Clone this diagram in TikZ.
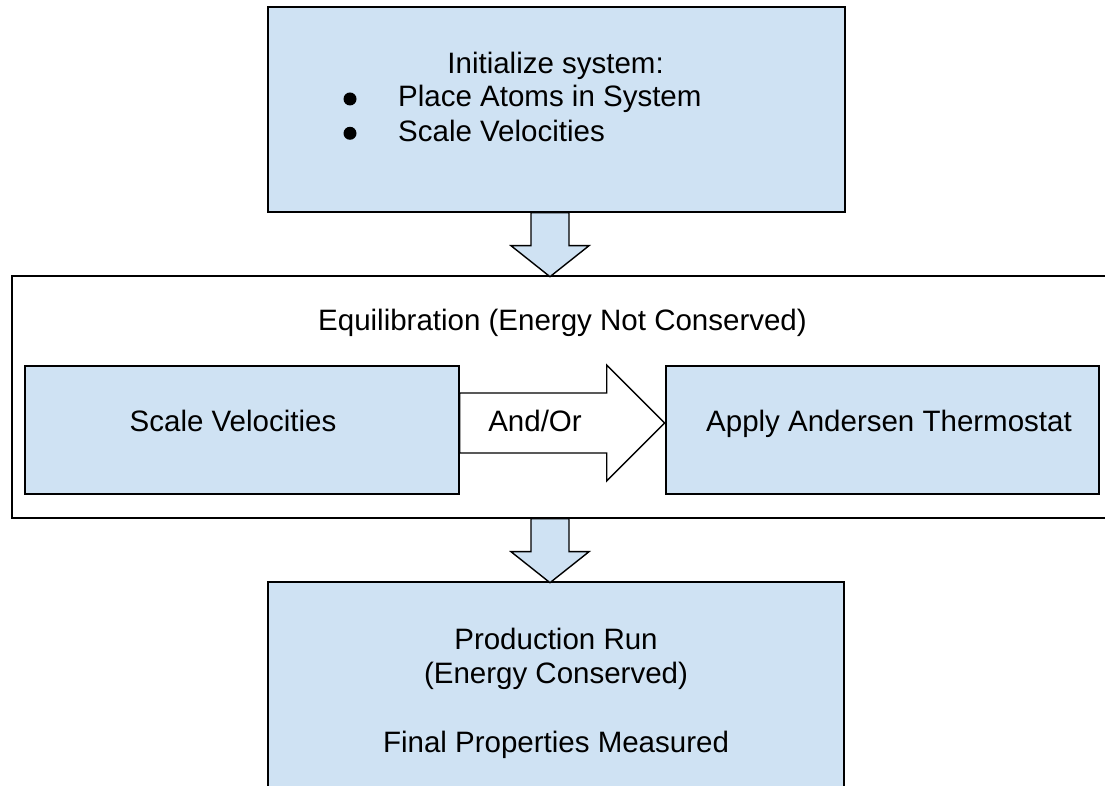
\documentclass[tikz,border=0pt]{standalone}
\usepackage{fontspec}
\setmainfont{Liberation Sans}
\usepackage{tikz}
\usetikzlibrary{calc}
\definecolor{paleblue}{HTML}{CFE2F3}
\tikzset{
  stagebox/.style={draw, line width=1.4pt, fill=paleblue, inner sep=0pt},
  groupbox/.style={draw, line width=1.4pt, fill=white, inner sep=0pt},
  blockarrow/.style={draw, line width=1.4pt, fill=paleblue, line join=miter},
  hollowarrow/.style={draw, line width=1.4pt, fill=white, line join=miter},
  txt/.style={inner sep=0pt, font=\fontsize{29.5}{34.5}\selectfont},
  dot/.style={circle, fill, inner sep=0pt, minimum size=13pt},
}

\begin{document}
\begin{tikzpicture}[x=1pt, y=1pt]

  \newcommand\downblock[1]{%
    \draw[blockarrow] (#1) +(-19,0) -- +(-19,-33) -- +(-39,-33) -- +(0,-64)
    -- +(39,-33) -- +(19,-33) -- +(19,0) -- cycle;}

  \clip (0,0) rectangle (1105,786);

  %% boxes
  \node[stagebox, minimum width=577pt, minimum height=205pt] (init) at (556.5,676.5) {};
  \node[groupbox, minimum width=1101pt, minimum height=242pt] (equil) at (562.5,389) {};
  \node[stagebox, minimum width=434pt, minimum height=128pt] (scale) at (242,356) {};
  \node[stagebox, minimum width=433pt, minimum height=128pt] (thermo) at (882.5,356) {};
  \node[stagebox, txt, align=center, minimum width=576pt, minimum height=223pt]
  (prod) at (556,92.6) {Production Run\\(Energy Conserved)\\[34.5pt]Final Properties Measured};

  %% texts
  \node[txt, anchor=base] (inittitle) at (555.6,712) {Initialize system:};
  \node[dot] (dot1) at (350,687) {};
  \node[dot] (dot2) at (350,652.7) {};
  \node[txt, anchor=base west] (item1) at (398,679) {Place Atoms in System};
  \node[txt, anchor=base west] (item2) at (398,644) {Scale Velocities};
  \node[txt, anchor=base] (equiltitle) at (562.5,455) {Equilibration (Energy Not Conserved)};
  \node[txt, anchor=base] (scaletext) at (233,354) {Scale Velocities};
  \node[txt, anchor=base] (thermotext) at (889,354) {Apply Andersen Thermostat};

  %% arrows
  \coordinate (a1) at ($(init.south)+(-6.5,0)$);
  \coordinate (a2) at (equil.south -| a1);
  \coordinate (a3) at ($(scale.east)+(0,7)$);
  \downblock{a1}
  \downblock{a2}
  \draw[hollowarrow] (a3) +(0,-30) -- +(147,-30) -- +(147,-58) -- +(205,0)
  -- +(147,58) -- +(147,30) -- +(0,30) -- cycle;
  \node[txt, anchor=base] (andor) at (535,354) {And/Or};

\end{tikzpicture}
\end{document}
